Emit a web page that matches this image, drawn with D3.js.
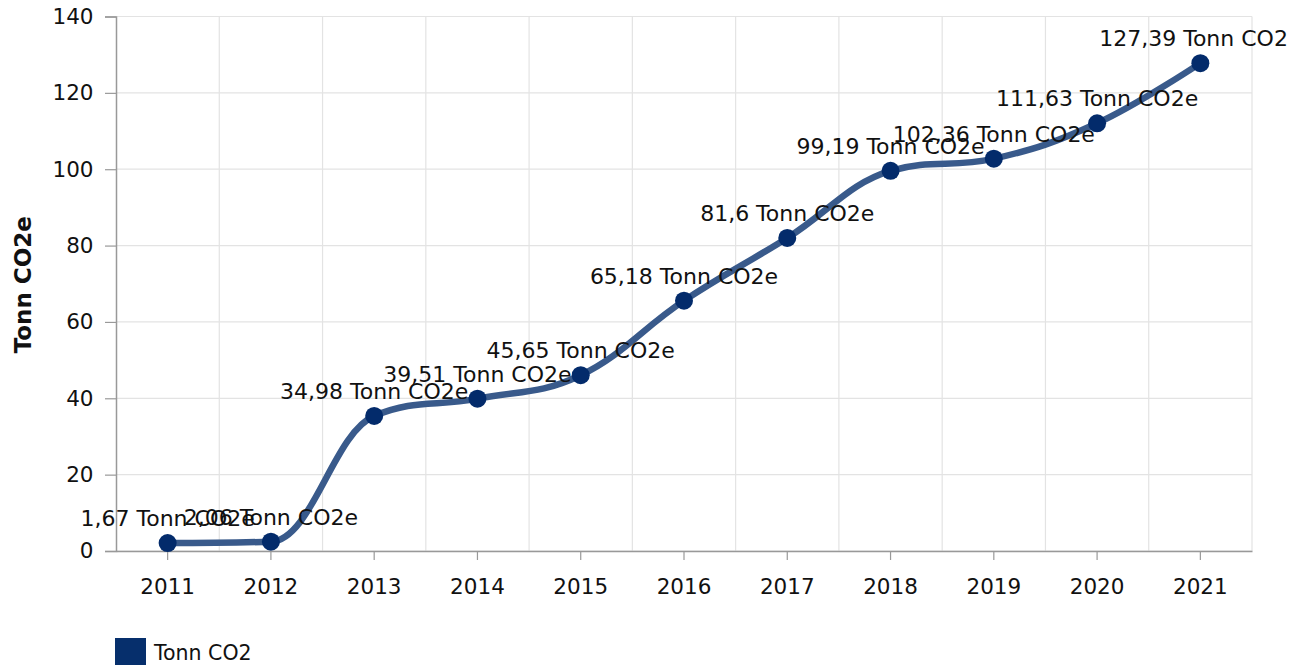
<!DOCTYPE html>
<html><head><meta charset="utf-8">
<script src="https://cdn.jsdelivr.net/npm/d3@7"></script>
<style>body{margin:0;background:#fff}svg{display:block}text{font-family:"DejaVu Sans",Verdana,sans-serif}</style>
</head><body><svg id="c" width="1304" height="666"></svg>
<script>
const years = ["2011","2012","2013","2014","2015","2016","2017","2018","2019","2020","2021"];
const values = [1.67, 2.06, 34.98, 39.51, 45.65, 65.18, 81.6, 99.19, 102.36, 111.63, 127.39];
const valueLabels = ["1,67","2,06","34,98","39,51","45,65","65,18","81,6","99,19","102,36","111,63","127,39"];
const unit = "Tonn CO2e";
const yTicks = [0,20,40,60,80,100,120,140];
const seriesName = "Tonn CO2";
const yTitle = "Tonn CO2e";

const svg = d3.select("#c");
const L = 116, R = 1252, T = 16.5, B = 551;
const x = d3.scaleBand().domain(years).range([L, R]);
const y = d3.scaleLinear().domain([0, 140]).range([B, T]);
const cx = d => x(d) + x.bandwidth()/2;
const dy = -1.5;

// horizontal grid
svg.append("g").selectAll("line").data(yTicks).join("line")
  .attr("x1", L).attr("x2", R).attr("y1", d => y(d)).attr("y2", d => y(d))
  .attr("stroke", "#e3e3e3").attr("stroke-width", 1.2);
// vertical grid at band boundaries
const bounds = years.map(d => x(d)).concat([R]);
svg.append("g").selectAll("line").data(bounds.slice(1)).join("line")
  .attr("x1", d => d).attr("x2", d => d).attr("y1", T).attr("y2", B)
  .attr("stroke", "#e3e3e3").attr("stroke-width", 1.2);

// y axis
const ya = svg.append("g").attr("transform", `translate(${L},0)`)
  .call(d3.axisLeft(y).tickValues(yTicks).tickSize(11).tickPadding(11.5));
ya.select(".domain").attr("stroke", "#999").attr("stroke-width", 1.5);
ya.selectAll(".tick line").attr("stroke", "#999").attr("stroke-width", 1.2);
ya.selectAll("text").attr("font-size", 21.5).attr("fill", "#111").attr("font-family", "DejaVu Sans");

// x axis
const xa = svg.append("g").attr("transform", `translate(0,${B})`)
  .call(d3.axisBottom(x).tickSize(9).tickPadding(19).tickSizeOuter(0));
xa.select(".domain").attr("stroke", "#999").attr("stroke-width", 1.5);
xa.selectAll(".tick line").attr("stroke", "#999").attr("stroke-width", 1.2);
xa.selectAll("text").attr("font-size", 21.5).attr("fill", "#111").attr("font-family", "DejaVu Sans");

// y title
svg.append("text").attr("transform", `translate(31,${(T+B)/2 + 1}) rotate(-90)`)
  .attr("text-anchor", "middle").attr("font-size", 23).attr("font-weight", "bold")
  .attr("fill", "#111").text(yTitle);

// spline (Highcharts-style smoothing)
const pts = years.map((d,i) => [cx(d), y(values[i]) + dy]);
function splinePath(p) {
  const s = 1.5, den = s + 1;
  const path = d3.path();
  path.moveTo(p[0][0], p[0][1]);
  let prevRC = null;
  for (let i = 1; i < p.length; i++) {
    const [px, py] = p[i];
    let lcx = px, lcy = py, rcx = null, rcy = null;
    if (i < p.length - 1) {
      const [lx, ly] = p[i-1], [nx, ny] = p[i+1];
      lcx = (s*px + lx)/den; lcy = (s*py + ly)/den;
      rcx = (s*px + nx)/den; rcy = (s*py + ny)/den;
      if (rcx !== lcx) {
        const corr = ((rcy - lcy) * (rcx - px)) / (rcx - lcx) + py - rcy;
        lcy += corr; rcy += corr;
        if (lcy > ly && lcy > py) { lcy = Math.max(ly, py); rcy = 2*py - lcy; }
        else if (lcy < ly && lcy < py) { lcy = Math.min(ly, py); rcy = 2*py - lcy; }
        if (rcy > ny && rcy > py) { rcy = Math.max(ny, py); lcy = 2*py - rcy; }
        else if (rcy < ny && rcy < py) { rcy = Math.min(ny, py); lcy = 2*py - rcy; }
      }
    }
    const c1 = prevRC || p[i-1];
    path.bezierCurveTo(c1[0], c1[1], lcx, lcy, px, py);
    prevRC = rcx === null ? null : [rcx, rcy];
  }
  return path.toString();
}
svg.append("path").attr("d", splinePath(pts))
  .attr("fill", "none").attr("stroke", "#395a8b").attr("stroke-width", 6.5)
  .attr("stroke-linejoin", "round").attr("stroke-linecap", "round");

svg.append("g").selectAll("circle").data(pts).join("circle")
  .attr("cx", d => d[0]).attr("cy", d => d[1]).attr("r", 9).attr("fill", "#032b6b");

// labels
svg.append("clipPath").attr("id", "clipL").append("rect").attr("x", 0).attr("y", 0).attr("width", 1288).attr("height", 666);
svg.append("g").attr("clip-path", "url(#clipL)").selectAll("text").data(pts).join("text")
  .attr("x", d => d[0]).attr("y", d => d[1] - 17).attr("text-anchor", "middle")
  .attr("font-size", 22).attr("fill", "#111")
  .text((d,i) => valueLabels[i] + " " + unit);

// legend
svg.append("rect").attr("x", 115).attr("y", 638).attr("width", 31).attr("height", 27).attr("fill", "#062f6c");
svg.append("text").attr("x", 154).attr("y", 660).attr("font-size", 20.5).attr("fill", "#111").text(seriesName);
</script></body></html>
